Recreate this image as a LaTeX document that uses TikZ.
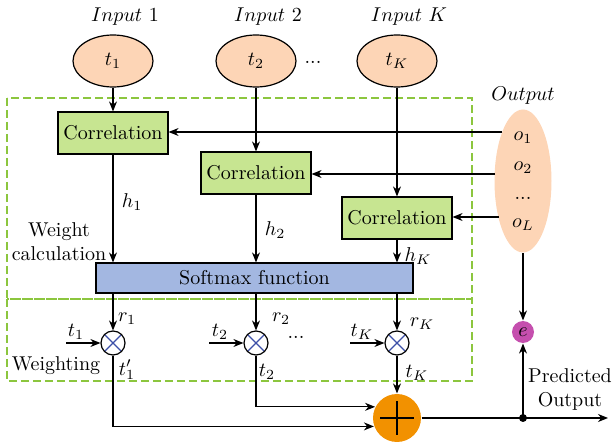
\documentclass[tikz,border=0pt]{standalone}
\usepackage{amsmath,amssymb}
\usepackage{xcolor}
\usepackage{tikz}
\usetikzlibrary{arrows.meta, positioning, shapes.geometric, calc}
\definecolor{peach}{HTML}{FDD5B6}
\definecolor{corrgreen}{HTML}{C7E591}
\definecolor{softblue}{HTML}{A3B7E1}
\definecolor{dashgreen}{HTML}{8CC63E}
\definecolor{sumorange}{HTML}{F29100}
\definecolor{errpurple}{HTML}{C54FAE}
\definecolor{crossblue}{HTML}{3C4FA8}

\begin{document}
\begin{tikzpicture}[x=0.5pt, y=-0.5pt, line width=0.6pt,
  >={Stealth[length=5pt,width=4pt]},
  inellipse/.style={ellipse, draw, fill=peach, minimum width=40pt, minimum height=26pt, inner sep=0pt},
  corrbox/.style={draw, fill=corrgreen, minimum width=55pt, minimum height=21pt, inner sep=0pt},
  mult/.style={circle, draw, fill=white, minimum size=12pt, inner sep=0pt,
    path picture={\draw[crossblue, line width=0.6pt]
      (path picture bounding box.north west) -- (path picture bounding box.south east)
      (path picture bounding box.north east) -- (path picture bounding box.south west);}},
  adder/.style={circle, fill=sumorange, minimum size=24pt, inner sep=0pt,
    path picture={\draw[line width=0.6pt]
      (path picture bounding box.center) +(-8.5pt,0) -- +(8.5pt,0)
      (path picture bounding box.center) +(0,-8.5pt) -- +(0,8.5pt);}},
  region/.style={dashgreen, line width=0.6pt, dash pattern=on 4pt off 2pt}]
  \useasboundingbox (0,0) rectangle (612,444);

  % Dashed regions
  \draw[region] (7,98) rectangle (472,299);
  \draw[region] (7,299) rectangle (472,381);

  % Inputs
  \foreach \i/\x in {1/113, 2/256, K/397} {
    \node[inellipse] (t\i) at (\x,61) {$t_\i$};
    \node (in\i) at (\x+12,17) {$Input\ \i$};
  }
  \node (tdots) at (313,62) {...};

  % Correlation boxes
  \foreach \i/\x/\y in {1/113/133, 2/256/173, K/397/218}
    \node[corrbox] (c\i) at (\x,\y) {Correlation};

  % Softmax
  \node[draw, fill=softblue, minimum width=158.5pt, minimum height=15pt, inner sep=0pt] (soft) at (254.5,278) {Softmax function};

  % Output ellipse
  \node[ellipse, fill=peach, minimum width=28.5pt, minimum height=71.5pt, inner sep=0pt] (out) at (523,181) {};
  \node (outlbl) at (523,96) {$Output$};
  \node (o1) at (523,138) {$o_1$};
  \node (o2) at (523,168) {$o_2$};
  \node (odots) at (523,198) {...};
  \node (oL) at (523,225) {$o_L$};
  \coordinate (oin1) at (502,132);
  \coordinate (oin2) at (495,174);
  \coordinate (oinK) at (499,217);

  % Weighting
  \foreach \i/\x in {1/113, 2/256, K/397} {
    \node[mult] (m\i) at (\x,343) {};
    \coordinate (tin\i) at (\x-47,343);
  }
  \node (tdots2) at (296,337) {...};

  % Sum and error
  \node[adder] (sum) at (397,418) {};
  \node[circle, fill=errpurple, minimum size=11pt, inner sep=0pt] (e) at (523,332) {$e$};
  \fill (523,418) circle (2pt) coordinate (split);
  \coordinate (outend) at (608,418);

  % Connectors
  \foreach \i in {1,2,K} {
    \draw[->] (t\i) -- (c\i);
    \draw[->] (c\i) -- (c\i |- soft.north);
    \draw[->] (soft.south -| m\i) -- (m\i);
    \draw[->] (tin\i) -- (m\i);
    \draw[->] (oin\i) -- (c\i.east |- oin\i);
  }
  \draw[->] (m1) |- (sum.200);
  \draw[->] (m2) |- (sum.153);
  \draw[->] (mK) -- (sum);
  \draw[->] (sum) -- (outend);
  \draw[->] (split) -- (e);
  \draw[->] (out) -- (e);

  % Labels
  \node (h1) at (132,202) {$h_1$};
  \node (h2) at (275,230) {$h_2$};
  \node (hK) at (418,256) {$h_K$};
  \node[align=center] (wcalc) at (59,242) {Weight\\calculation};
  \node (r1) at (127,319) {$r_1$};
  \node (r2) at (281,319) {$r_2$};
  \node (rK) at (422,324) {$r_K$};
  \node (tl1) at (76,332) {$t_1$};
  \node (tl2) at (220,332) {$t_2$};
  \node (tlK) at (362,332) {$t_K$};
  \node (weighting) at (56,366) {Weighting};
  \node (tw1) at (127,370) {$t_1'$};
  \node (tw2) at (267,372) {$t_2$};
  \node (twK) at (417,373) {$t_K$};
  \node[align=center] (pred) at (570,390) {Predicted\\Output};
\end{tikzpicture}
\end{document}
